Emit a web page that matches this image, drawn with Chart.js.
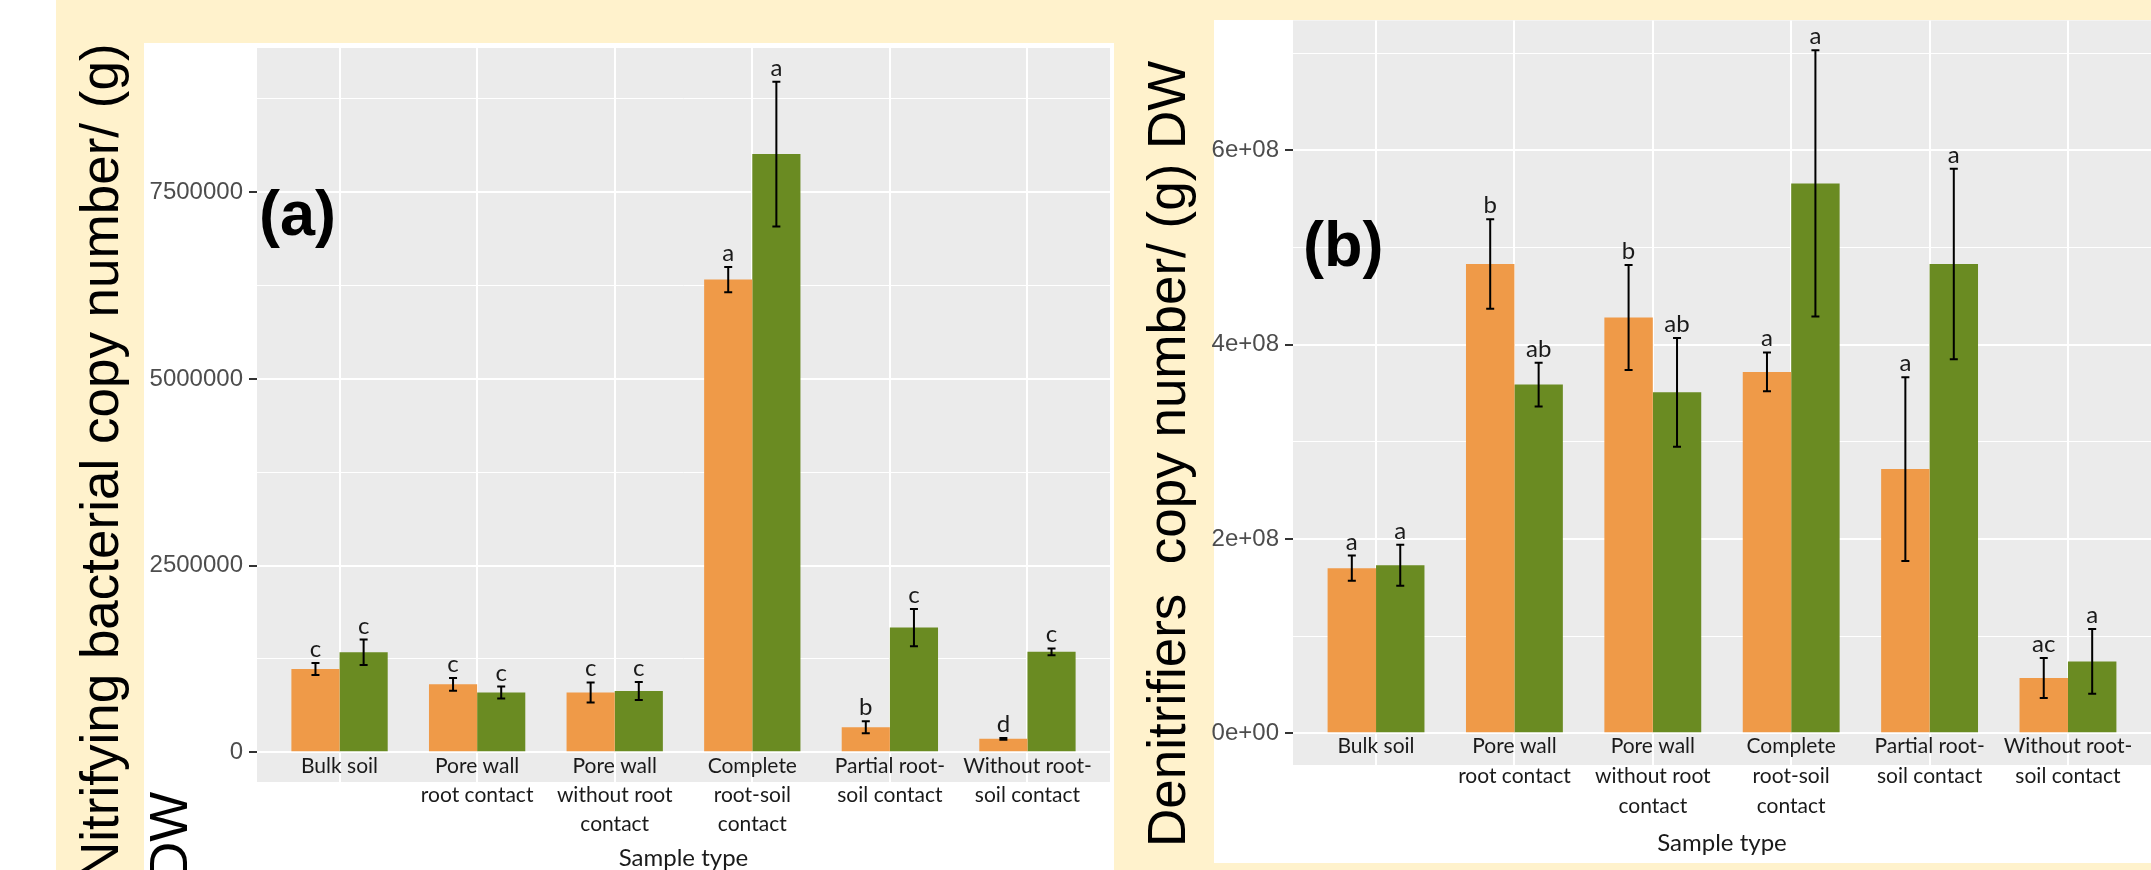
<!DOCTYPE html>
<html>
<head>
<meta charset="utf-8">
<title>Nitrifiers and denitrifiers by sample type</title>
<script src="https://cdn.jsdelivr.net/npm/chart.js@4.4.1/dist/chart.umd.min.js"></script>
<style>
  html, body { margin: 0; padding: 0; }
  body { width: 2151px; height: 870px; background: #FFF2CC; position: relative; overflow: hidden; }
  .box { position: absolute; background: #FFFFFF; }
  .holder { position: absolute; top: 0; }
</style>
</head>
<body>
<div class="box" style="left:0;top:0;width:56px;height:870px"></div>
<div class="box" style="left:144px;top:43px;width:970px;height:827px"></div>
<div class="box" style="left:1214px;top:20px;width:937px;height:843px"></div>
<div class="holder" style="left:0"><canvas id="chartA" width="1114" height="870"></canvas></div>
<div class="holder" style="left:1114px"><canvas id="chartB" width="1037" height="870"></canvas></div>

<script>
const categories = [
  ['Bulk soil'],
  ['Pore wall', 'root contact'],
  ['Pore wall', 'without root', 'contact'],
  ['Complete', 'root-soil', 'contact'],
  ['Partial root-', 'soil contact'],
  ['Without root-', 'soil contact']
];

// (a) nitrifying bacteria, copies / g DW (mean and SE)
const nitOrange = [1115000, 910000, 800000, 6330000, 335000, 180000];
const nitOrangeSe = [80000, 85000, 135000, 170000, 80000, 12000];
const nitGreen = [1340000, 800000, 820000, 8010000, 1670000, 1345000];
const nitGreenSe = [170000, 80000, 120000, 970000, 250000, 45000];
const nitOrangeLetters = ['c', 'c', 'c', 'a', 'b', 'd'];
const nitGreenLetters = ['c', 'c', 'c', 'a', 'c', 'c'];
const nitTicks = [0, 2500000, 5000000, 7500000];
const nitTickLabels = ['0', '2500000', '5000000', '7500000'];
const nitMinorTicks = [1250000, 3750000, 6250000, 8750000];

// (b) denitrifiers, copies / g DW (mean and SE)
const denOrange = [1.70e8, 4.83e8, 4.28e8, 3.72e8, 2.72e8, 0.57e8];
const denOrangeSe = [0.13e8, 0.46e8, 0.54e8, 0.20e8, 0.945e8, 0.206e8];
const denGreen = [1.73e8, 3.59e8, 3.51e8, 5.66e8, 4.83e8, 0.74e8];
const denGreenSe = [0.21e8, 0.225e8, 0.56e8, 1.37e8, 0.98e8, 0.333e8];
const denOrangeLetters = ['a', 'b', 'b', 'a', 'a', 'ac'];
const denGreenLetters = ['a', 'ab', 'ab', 'a', 'a', 'a'];
const denTicks = [0, 2e8, 4e8, 6e8];
const denTickLabels = ['0e+00', '2e+08', '4e+08', '6e+08'];
const denMinorTicks = [1e8, 3e8, 5e8, 7e8];

const ORANGE = '#EF9A48';
const GREEN = '#6A8B22';

Chart.defaults.font.family = 'Lato, sans-serif';

// grey ggplot panel behind the grid
const panelBg = {
  id: 'panelBg',
  beforeDraw(chart) {
    const {ctx, chartArea: a} = chart;
    ctx.save();
    ctx.fillStyle = '#EBEBEB';
    ctx.fillRect(a.left, a.top, a.right - a.left, a.bottom - a.top);
    ctx.restore();
  }
};

// error bars (mean +/- se) and the significance letters
const errorBars = {
  id: 'errorBars',
  afterDatasetsDraw(chart) {
    const ctx = chart.ctx;
    const y = chart.scales.y;
    chart.data.datasets.forEach((ds, di) => {
      chart.getDatasetMeta(di).data.forEach((bar, i) => {
        const v = ds.data[i].y;
        const e = ds.se[i];
        const top = y.getPixelForValue(v + e);
        const bot = y.getPixelForValue(v - e);
        ctx.save();
        ctx.strokeStyle = '#000000';
        ctx.lineWidth = 2;
        ctx.beginPath();
        ctx.moveTo(bar.x, top); ctx.lineTo(bar.x, bot);
        ctx.moveTo(bar.x - 4, top); ctx.lineTo(bar.x + 4, top);
        ctx.moveTo(bar.x - 4, bot); ctx.lineTo(bar.x + 4, bot);
        ctx.stroke();
        ctx.fillStyle = '#1A1A1A';
        ctx.font = '24px Lato, sans-serif';
        ctx.textAlign = 'center';
        ctx.textBaseline = 'alphabetic';
        ctx.fillText(ds.letters[i], bar.x, top - 6);
        ctx.restore();
      });
    });
  }
};

// panel tag and the big rotated y title
const panelText = {
  id: 'panelText',
  afterDraw(chart, args, opts) {
    const ctx = chart.ctx;
    ctx.save();
    ctx.fillStyle = '#000000';
    ctx.textAlign = 'left';
    ctx.textBaseline = 'alphabetic';
    ctx.font = 'bold 63px "Liberation Sans", Arial, sans-serif';
    ctx.fillText(opts.tag, opts.tagX, opts.tagY);
    ctx.font = '53px "Liberation Sans", Arial, sans-serif';
    opts.title.forEach((line, k) => {
      ctx.save();
      ctx.translate(opts.titleX[k], opts.titleY);
      ctx.rotate(-Math.PI / 2);
      ctx.fillText(line, 0, 0);
      ctx.restore();
    });
    ctx.restore();
  }
};

function makeChart(id, cfg) {
  const isMajor = c => c.tick && cfg.ticks.includes(c.tick.value);
  return new Chart(document.getElementById(id), {
    type: 'bar',
    data: {
      datasets: [
        {
          data: cfg.orange.map((v, i) => ({x: i, y: v})),
          backgroundColor: ORANGE, borderWidth: 0,
          categoryPercentage: 0.7, barPercentage: 1,
          se: cfg.orangeSe, letters: cfg.orangeLetters
        },
        {
          data: cfg.green.map((v, i) => ({x: i, y: v})),
          backgroundColor: GREEN, borderWidth: 0,
          categoryPercentage: 0.7, barPercentage: 1,
          se: cfg.greenSe, letters: cfg.greenLetters
        }
      ]
    },
    options: {
      responsive: false,
      animation: false,
      layout: {padding: cfg.padding},
      plugins: {
        legend: {display: false},
        tooltip: {enabled: false},
        panelText: cfg.text
      },
      scales: {
        x: {
          type: 'linear', min: -0.6, max: 5.6, offset: false,
          afterBuildTicks: s => { s.ticks = categories.map((c, i) => ({value: i})); },
          afterFit: s => { s.height = cfg.xHeight; },
          ticks: {
            callback: v => categories[v],
            color: '#1A1A1A',
            font: {family: 'Lato, sans-serif', size: 21, lineHeight: cfg.labelLine},
            // mirror keeps the labels unclipped so they can sit inside the grey panel
            mirror: true,
            padding: cfg.labelPad,
            autoSkip: false, maxRotation: 0, minRotation: 0
          },
          grid: {color: '#FFFFFF', lineWidth: 2, drawTicks: false, offset: false},
          border: {display: false},
          title: {
            display: true, text: 'Sample type', color: '#1A1A1A',
            font: {family: 'Lato, sans-serif', size: 24, lineHeight: 1},
            padding: {top: 0, bottom: cfg.titlePad}
          }
        },
        y: {
          min: cfg.yMin, max: cfg.yMax,
          afterBuildTicks: s => {
            s.ticks = cfg.ticks.concat(cfg.minor).sort((p, q) => p - q).map(v => ({value: v}));
          },
          afterFit: s => { s.width = cfg.yWidth; },
          ticks: {
            callback: v => { const k = cfg.ticks.indexOf(v); return k < 0 ? '' : cfg.tickLabels[k]; },
            color: '#4D4D4D',
            font: {family: '"Liberation Sans", Arial, sans-serif', size: 24},
            padding: 6, autoSkip: false
          },
          grid: {
            color: '#FFFFFF',
            lineWidth: c => isMajor(c) ? 2 : 1,
            tickColor: c => isMajor(c) ? '#333333' : 'rgba(0,0,0,0)',
            tickLength: 8, tickWidth: 2
          },
          border: {display: false}
        }
      }
    },
    plugins: [panelBg, errorBars, panelText]
  });
}

makeChart('chartA', {
  orange: nitOrange, orangeSe: nitOrangeSe, orangeLetters: nitOrangeLetters,
  green: nitGreen, greenSe: nitGreenSe, greenLetters: nitGreenLetters,
  ticks: nitTicks, tickLabels: nitTickLabels, minor: nitMinorTicks,
  yMin: -398000, yMax: 9431000,
  padding: {top: 48, right: 4, left: 0, bottom: 0},
  yWidth: 257, xHeight: 88,
  labelPad: 1.5, labelLine: 1.4, titlePad: 0,
  text: {
    tag: '(a)', tagX: 259, tagY: 235,
    title: ['Nitrifying bacterial copy number/ (g)', 'DW'],
    titleX: [118, 187], titleY: 880
  }
});

makeChart('chartB', {
  orange: denOrange, orangeSe: denOrangeSe, orangeLetters: denOrangeLetters,
  green: denGreen, greenSe: denGreenSe, greenLetters: denGreenLetters,
  ticks: denTicks, tickLabels: denTickLabels, minor: denMinorTicks,
  yMin: -0.326e8, yMax: 7.338e8,
  padding: {top: 20, right: 0, left: 0, bottom: 0},
  yWidth: 179, xHeight: 105,
  labelPad: 4, labelLine: 1.45, titlePad: 15,
  text: {
    tag: '(b)', tagX: 189, tagY: 266,
    title: ['Denitrifiers  copy number/ (g) DW'],
    titleX: [71], titleY: 847
  }
});
</script>
</body>
</html>
